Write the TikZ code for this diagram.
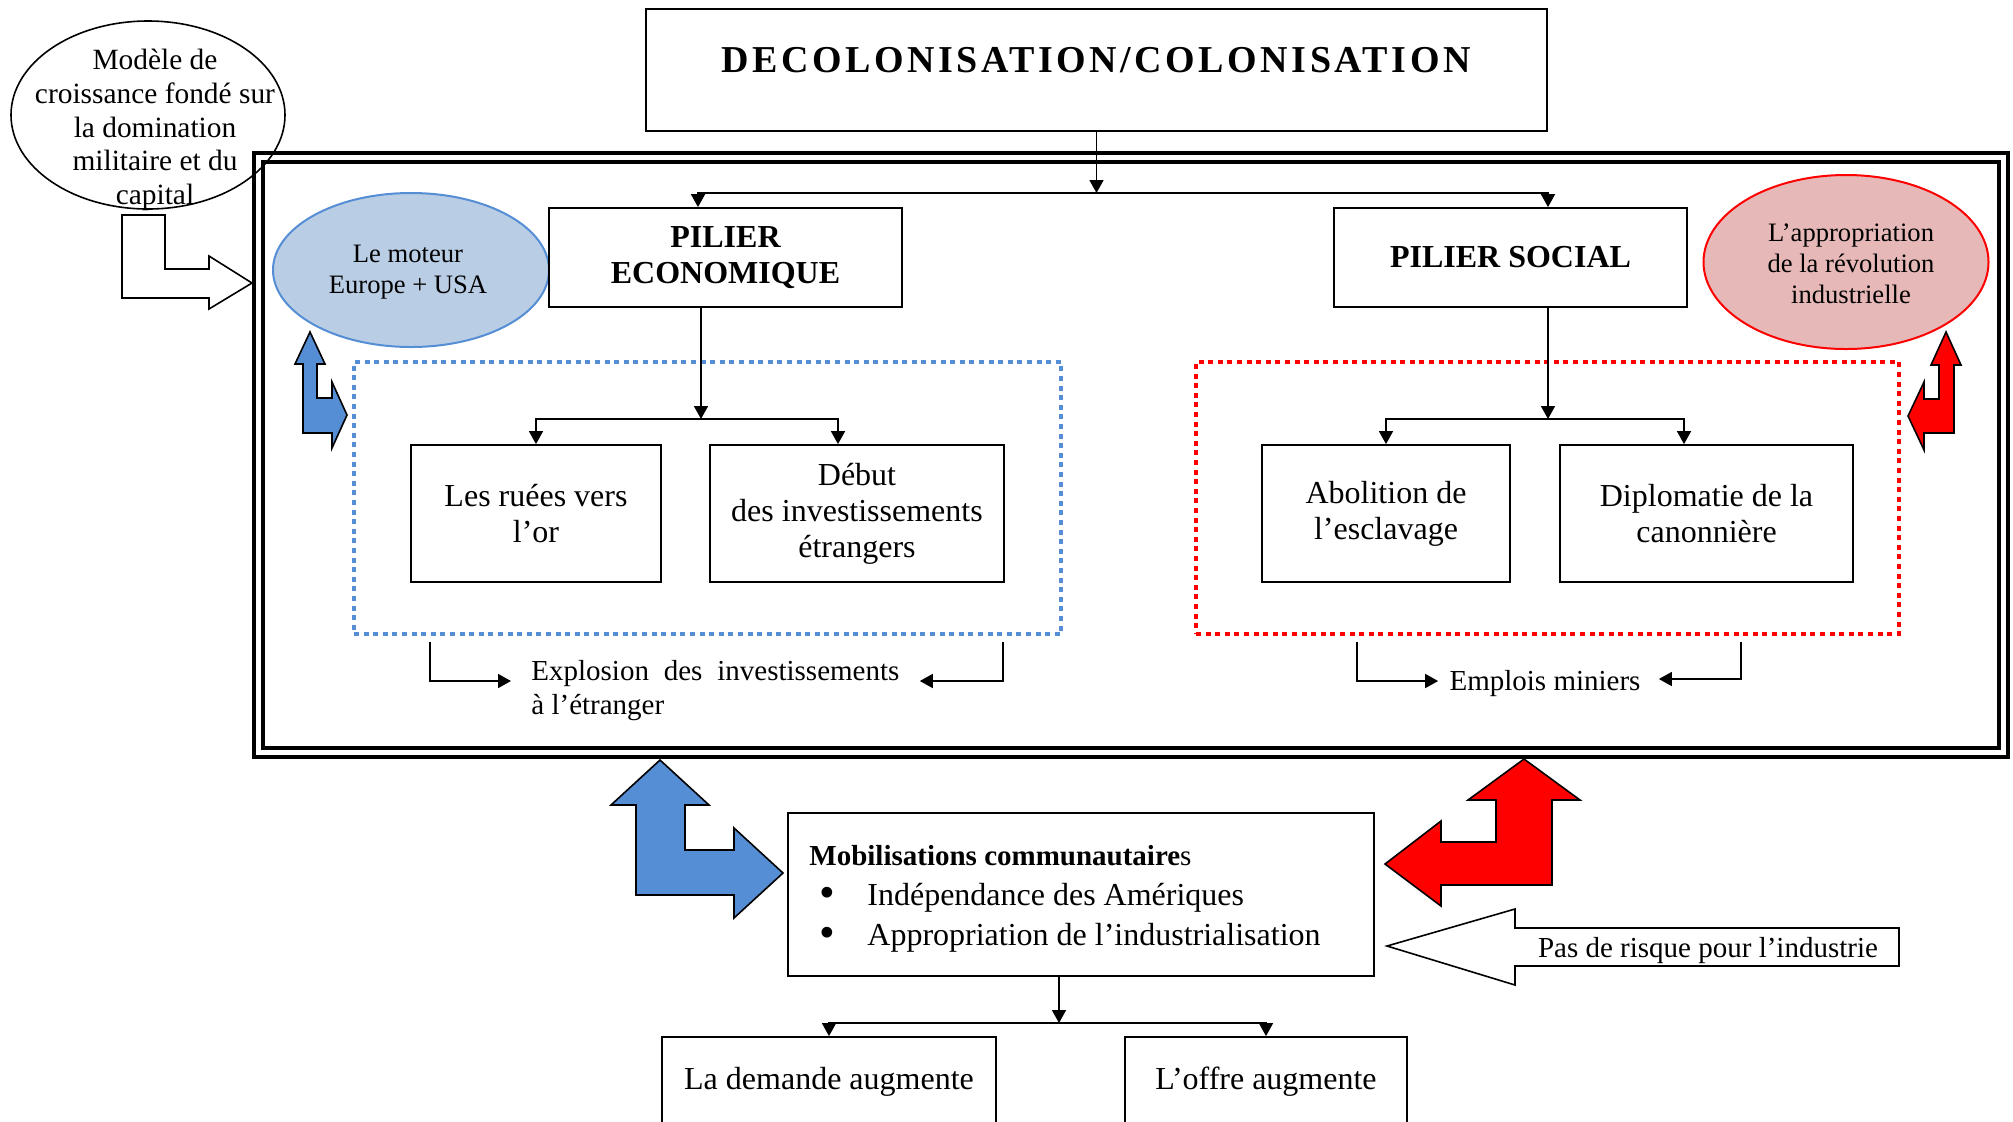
\documentclass[tikz,border=0pt]{standalone}
\usepackage{graphicx}
\usepackage{fontspec}
\setmainfont{Liberation Serif}
\usetikzlibrary{arrows.meta,shapes.geometric,calc}

\definecolor{blueline}{HTML}{558ED5}
\definecolor{bluefill}{HTML}{558ED5}
\definecolor{lightblue}{HTML}{B9CDE5}
\definecolor{pinkfill}{HTML}{E6B9B8}
\definecolor{redfill}{HTML}{FF0000}

\newcommand{\bigbullet}{\raisebox{-0.8pt}{\scalebox{1.4}{•}}}

\begin{document}
\begin{tikzpicture}[x=0.5pt,y=-0.5pt,
  box/.style={draw, line width=0.9pt, inner sep=0pt, align=center},
  txt/.style={inner sep=0pt, align=center},
  conn/.style={line width=0.8pt, -{Triangle[width=7pt,length=6.5pt]}},
  frameline/.style={draw, line width=2pt, inner sep=0pt},
  dotzone/.style={draw, line width=2pt, dash pattern=on 2.5pt off 2.3pt, inner sep=0pt},
  blockarrow/.style={draw=black, line width=0.8pt, line join=miter},
  body/.style={font=\fontsize{16}{18}\selectfont},
  small/.style={font=\fontsize{14.5}{17}\selectfont},
  headfont/.style={font=\fontsize{16}{18}\selectfont\bfseries},
]
\clip (0,0) rectangle (2013,1121);

% ---- title ----
\node[box, minimum width=450.5pt, minimum height=61pt] (title) at (1096.5,70) {};
\node[txt, anchor=base, font=\fontsize{19}{22}\selectfont\bfseries\addfontfeature{LetterSpace=9.3}] (titletext) at (1096,72) {DECOLONISATION/COLONISATION};

% ---- double frame ----
\node[frameline, minimum width=877pt, minimum height=302pt] (outer) at (1131,455) {};
\node[frameline, minimum width=868pt, minimum height=293pt] (inner) at (1131,455) {};

% ---- growth model bubble and its arrow ----
\node[draw, ellipse, line width=0.8pt, minimum width=137pt, minimum height=94pt, inner sep=0pt] (model) at (148,115) {};
\node[txt, font=\fontsize{14.7}{16.9}\selectfont] (modeltext) at (155,130) {Modèle de\\croissance fondé sur\\la domination\\militaire et du\\capital};
\draw[blockarrow, fill=white] (122,215) -- (165,215) -- (165,269) -- (209,269) -- (209,256) -- (252,283) -- (209,309) -- (209,298) -- (122,298) -- cycle;

% ---- engine ellipse ----
\node[ellipse, draw=blueline, line width=1pt, fill=lightblue, minimum width=138pt, minimum height=77pt, inner sep=0pt] (motor) at (411,270) {};
\node[txt, font=\fontsize{13.3}{15.5}\selectfont] (motortext) at (408,272) {Le moteur\\Europe + USA};

% ---- pillars ----
\node[box, headfont, minimum width=176.5pt, minimum height=49.5pt] (eco) at (725.5,257.5) {PILIER\\ECONOMIQUE};
\node[box, headfont, minimum width=176.5pt, minimum height=49.5pt] (social) at (1510.5,257.5) {PILIER SOCIAL};

% ---- industrial revolution ellipse ----
\node[ellipse, draw=red, line width=1pt, fill=pinkfill, minimum width=142.5pt, minimum height=87pt, inner sep=0pt] (appro) at (1846,262) {};
\node[txt, font=\fontsize{13.3}{15.5}\selectfont] (approtext) at (1851,264) {L’appropriation\\de la révolution\\industrielle};

% ---- dotted groups ----
\node[dotzone, draw=blueline, minimum width=353.5pt, minimum height=136pt] (ecozone) at (707.5,498) {};
\node[dotzone, draw=red, minimum width=351.5pt, minimum height=136pt] (soczone) at (1547.5,498) {};

% ---- inner boxes ----
\node[box, body, minimum width=125pt, minimum height=68.5pt] (ruee) at (536,513.5) {Les ruées vers\\l’or};
\node[box, body, minimum width=147pt, minimum height=68.5pt] (debut) at (857,513.5) {Début\\des investissements\\étrangers};
\node[box, body, minimum width=124pt, minimum height=68.5pt] (aboli) at (1386,513.5) {Abolition de\\l’esclavage};
\node[box, body, minimum width=146.5pt, minimum height=68.5pt] (diplo) at (1706.5,513.5) {Diplomatie de la\\canonnière};

% ---- tree connectors ----
\coordinate (jT) at (1096.5,193);
\draw[conn] (title.south) -- (jT);
\draw[conn] (jT) -| ([xshift=-13.75pt]eco.north);
\draw[conn] (jT) -| ([xshift=18.75pt]social.north);

\coordinate (jE) at (701,419);
\draw[conn] ([xshift=-12.25pt]eco.south) -- (jE);
\draw[conn] (jE) -| (ruee.north);
\draw[conn] (jE) -| ([xshift=-9.5pt]debut.north);

\coordinate (jS) at (1548,419);
\draw[conn] ([xshift=18.75pt]social.south) -- (jS);
\draw[conn] (jS) -| (aboli.north);
\draw[conn] (jS) -| ([xshift=-11.25pt]diplo.north);

% ---- outcomes below the groups ----
\node[txt, small, text width=184pt, align=justify, anchor=west] (expl) at (531,691) {Explosion des investissements\linebreak à l’étranger};
\coordinate (exL) at (430,642);
\coordinate (exR) at (1003,642);
\draw[conn] (exL) |- ([xshift=-10pt,yshift=5pt]expl.west);
\draw[conn] (exR) |- ([xshift=10pt,yshift=5pt]expl.east);

\node[txt, small] (emplois) at (1545,684) {Emplois miniers};
\coordinate (emL) at (1357,642);
\coordinate (emR) at (1741,642);
\draw[conn] (emL) |- ([xshift=-5.5pt,yshift=1.5pt]emplois.west);
\draw[conn] (emR) |- ([xshift=9pt,yshift=2.5pt]emplois.east);

% ---- small bent arrows beside the groups ----
\draw[blockarrow, fill=bluefill] (310,332) -- (325,364) -- (317,364) -- (317,398) -- (332,398) -- (332,382) -- (347,415) -- (332,448) -- (332,433) -- (303,433) -- (303,364) -- (295,364) -- cycle;
\draw[blockarrow, fill=redfill] (1946,332) -- (1961,365) -- (1954,365) -- (1954,433) -- (1924,433) -- (1924,450) -- (1908,416) -- (1924,382) -- (1924,399) -- (1939,399) -- (1939,365) -- (1931,365) -- cycle;

% ---- large bent arrows around the mobilisation box ----
\draw[blockarrow, fill=bluefill] (660,760) -- (709,805) -- (685,805) -- (685,850) -- (734,850) -- (734,828) -- (783,873) -- (734,918) -- (734,895) -- (636,895) -- (636,805) -- (611,805) -- cycle;
\draw[blockarrow, fill=redfill] (1524,759) -- (1580,800) -- (1552,800) -- (1552,885) -- (1441,885) -- (1441,906) -- (1385,864) -- (1441,821) -- (1441,842) -- (1496,842) -- (1496,800) -- (1468,800) -- cycle;

% ---- mobilisation box ----
\node[box, minimum width=293pt, minimum height=81.5pt] (mob) at (1081,894.5) {};
\node[txt, anchor=west, align=left, font=\fontsize{16}{20}\selectfont] (mobtext) at (809,899)
  {{\fontsize{14.5}{20}\selectfont\textbf{Mobilisations communautaire}s}\\
   \hspace*{5pt}\makebox[24pt][l]{\bigbullet}Indépendance des Amériques\\
   \hspace*{5pt}\makebox[24pt][l]{\bigbullet}Appropriation de l’industrialisation};

% ---- industry arrow ----
\draw[blockarrow, fill=white] (1387,946) -- (1515,909) -- (1515,928) -- (1899,928) -- (1899,966) -- (1515,966) -- (1515,985) -- cycle;
\node[txt, small] (risque) at (1708,951) {Pas de risque pour l’industrie};

% ---- demand / supply ----
\node[box, body, minimum width=167pt, minimum height=45pt] (dem) at (829,1082) {La demande augmente};
\node[box, body, minimum width=141pt, minimum height=45pt] (offre) at (1266,1082) {L’offre augmente};
\coordinate (jM) at (1059,1023);
\draw[conn] (mob.south -| jM) -- (jM);
\draw[conn] (jM) -| (dem.north);
\draw[conn] (jM) -| (offre.north);
\end{tikzpicture}
\end{document}
